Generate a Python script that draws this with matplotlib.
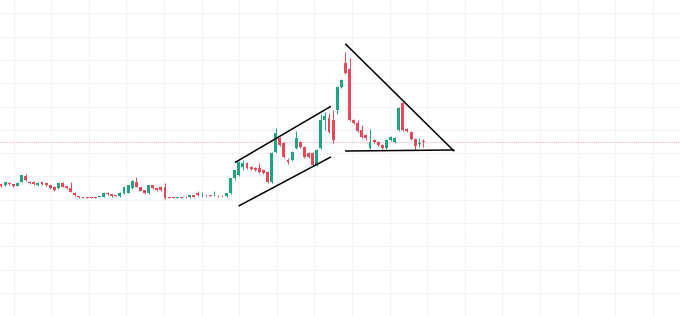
import numpy as np
import matplotlib
matplotlib.use("Agg")
import matplotlib.pyplot as plt

# OHLC (one candle per bar, left to right)
opens = [13.2, 13.1, 13.33, 13.2, 13.03, 13.43, 14.03, 13.43, 13.4, 13.1,
         13.4, 13.27, 13.1, 12.93, 12.77, 13.27, 13.0, 12.8, 12.33, 11.95,
         11.9, 11.85, 11.85, 11.9, 11.91, 11.93, 12.33, 12.2, 12.1, 12.0,
         12.27, 12.33, 12.77, 13.43, 12.87, 12.6, 12.27, 13.1, 12.8, 12.93,
         12.93, 11.9, 11.9, 11.85, 11.9, 11.93, 11.87, 12.1, 12.33, 12.07,
         12.12, 12.1, 12.08, 12.03, 12.02, 12.0, 12.27, 13.8, 14.1, 14.9,
         15.3, 14.9, 14.8, 14.8, 14.6, 14.4, 13.4, 16.4, 17.8, 17.3,
         15.6, 15.6, 16.8, 17.4, 16.9, 16.3, 16.3, 15.1, 16.8, 19.6,
         19.8, 19.6, 20.6, 22.9, 25.3, 24.7, 19.6, 19.3, 18.6, 18.1,
         16.8, 17.6, 17.4, 17.1, 16.8, 17.6, 17.4, 18.6, 21.3, 18.7,
         18.4, 17.7, 17.2, 17.5]
highs = [13.3, 13.45, 13.4, 13.25, 13.4, 14.15, 14.2, 13.5, 13.5, 13.4,
         13.45, 13.3, 13.15, 13.0, 13.35, 13.43, 13.05, 13.43, 12.4, 12.0,
         11.95, 11.9, 11.9, 11.95, 12.0, 12.4, 12.38, 12.25, 12.15, 12.38,
         12.95, 13.15, 13.6, 13.93, 12.92, 12.65, 13.15, 13.15, 12.85, 13.0,
         13.3, 11.95, 11.95, 11.95, 11.95, 11.98, 12.15, 12.15, 12.53, 12.43,
         12.17, 12.15, 12.53, 12.08, 12.07, 12.3, 13.85, 14.65, 15.5, 15.6,
         15.4, 15.0, 14.9, 15.3, 14.7, 14.5, 16.4, 18.8, 17.9, 17.4,
         15.8, 16.5, 18.5, 17.5, 17.0, 16.4, 16.4, 16.7, 20.2, 20.4,
         20.3, 20.6, 23.0, 23.7, 26.4, 25.8, 19.7, 19.6, 19.1, 18.2,
         18.7, 17.7, 17.5, 17.2, 17.7, 18.0, 17.9, 20.9, 21.4, 18.8,
         18.5, 17.8, 17.8, 17.7]
lows = [12.9, 13.05, 13.15, 12.95, 13.0, 13.4, 13.55, 13.2, 13.1, 13.05,
        13.15, 13.05, 12.75, 12.55, 12.7, 12.9, 12.75, 12.4, 12.05, 11.85,
        11.8, 11.78, 11.78, 11.8, 11.87, 11.9, 12.15, 11.95, 11.98, 11.95,
        12.22, 12.3, 12.7, 12.88, 12.48, 12.22, 12.22, 12.72, 12.55, 12.55,
        11.72, 11.8, 11.8, 11.8, 11.8, 11.82, 11.82, 11.88, 12.05, 11.93,
        12.0, 11.98, 12.02, 11.92, 11.92, 11.95, 12.2, 13.6, 14.0, 14.6,
        14.7, 14.65, 14.55, 14.35, 14.25, 13.35, 13.35, 16.3, 17.05, 15.85,
        15.2, 15.5, 16.7, 16.85, 15.85, 15.85, 15.05, 15.05, 16.7, 18.6,
        18.3, 17.3, 20.2, 22.8, 24.2, 19.5, 19.2, 18.4, 17.8, 17.6,
        16.7, 17.3, 17.0, 16.7, 16.7, 17.5, 17.3, 18.5, 18.5, 18.4,
        17.6, 16.6, 16.9, 16.9]
closes = [13.05, 13.37, 13.2, 13.0, 13.33, 14.1, 13.6, 13.27, 13.25, 13.33,
          13.2, 13.1, 12.8, 12.6, 13.27, 12.93, 12.8, 12.43, 12.1, 11.91,
          11.85, 11.82, 11.82, 11.85, 11.95, 12.33, 12.2, 12.0, 12.03, 12.33,
          12.87, 13.1, 13.53, 12.93, 12.53, 12.27, 13.1, 12.77, 12.6, 12.6,
          11.77, 11.85, 11.85, 11.9, 11.85, 11.87, 12.1, 11.93, 12.1, 12.12,
          12.07, 12.03, 12.12, 11.98, 11.98, 12.27, 13.8, 14.6, 15.4, 15.3,
          14.8, 14.7, 14.6, 14.4, 14.3, 13.4, 16.3, 18.3, 17.1, 15.9,
          15.4, 16.4, 17.8, 16.9, 15.9, 15.9, 15.1, 16.6, 19.6, 20.0,
          18.4, 17.6, 22.9, 23.6, 24.3, 19.6, 19.3, 18.5, 17.9, 17.8,
          17.4, 17.4, 17.1, 16.8, 17.6, 17.9, 17.8, 20.8, 18.6, 18.5,
          17.7, 17.0, 17.3, 17.4]

last_price = 17.43

# hand-drawn pattern lines (bar index, price)
channel_top = [(57.2, 15.38), (80.3, 20.93)]
channel_bottom = [(58.1, 11.03), (80.3, 15.87)]
triangle_top = [(84.1, 27.17), (110.4, 16.53)]
triangle_base = [(84.1, 16.5), (110.4, 16.6)]

up_color = "#22a37f"
down_color = "#e8485a"

fig = plt.figure(figsize=(6.8, 3.16), dpi=100)
ax = fig.add_axes([0, 0, 1, 1])

x = np.arange(len(opens))
o = np.array(opens)
c = np.array(closes)
colors = [up_color if cc >= oo else down_color for oo, cc in zip(o, c)]

ax.vlines(x, lows, highs, colors=colors, linewidth=0.7, zorder=3)
bottoms = np.minimum(o, c)
heights = np.maximum(np.abs(c - o), 0.07)
ax.bar(x, heights, bottom=bottoms, width=0.72, color=colors, linewidth=0, zorder=4)

ax.axhline(last_price, color="#f0b4b4", linewidth=0.8, linestyle=(0, (1, 1)), zorder=2)

for line in (channel_top, channel_bottom, triangle_top, triangle_base):
    xs, ys = zip(*line)
    ax.plot(xs, ys, color="black", linewidth=1.1, zorder=5)

ax.set_xlim(-0.244, 165.6)
ax.set_ylim(0, 31.6)
ax.set_xticks(np.arange(3.07, 166, 9.17))
ax.set_yticks(np.arange(30.27, 0, -2.33))
ax.grid(True, color="#f4f4f6", linewidth=0.8, zorder=0)
ax.tick_params(length=0, labelbottom=False, labelleft=False)
for s in ax.spines.values():
    s.set_visible(False)

fig.savefig("out.png", dpi=100)
